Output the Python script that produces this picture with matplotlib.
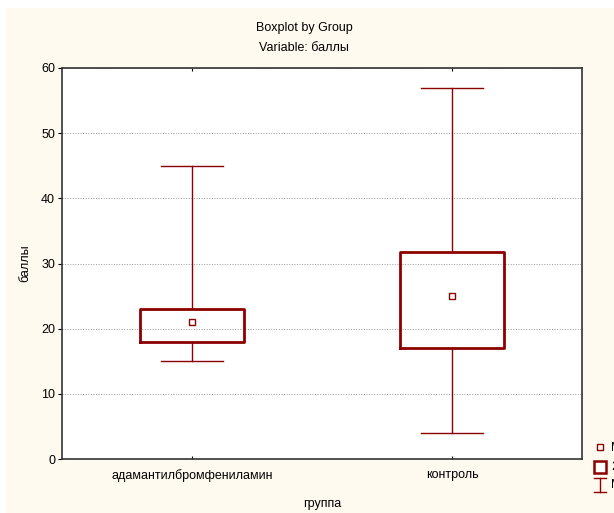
import matplotlib
matplotlib.use("Agg")
import matplotlib.pyplot as plt
from matplotlib.patches import Rectangle
from matplotlib.lines import Line2D

plt.rcParams["font.family"] = ["Liberation Sans", "DejaVu Sans"]

# ---- данные ----
groups = ["адамантилбромфениламин", "контроль"]
medians = [21, 25]
q1 = [18, 17]
q3 = [23, 31.8]
mins = [15, 4]
maxs = [45, 57]

RED = "#8c0000"
CREAM = "#fefaf0"

fig = plt.figure(figsize=(6.14, 5.13), dpi=100)
fig.patch.set_facecolor("white")
fig.add_artist(Rectangle((6/614, 0), 1, 1 - 8/513, transform=fig.transFigure,
                         fc=CREAM, ec="none", zorder=-10))

ax = fig.add_axes([62/614, 1 - 459/513, 520/614, 391/513])
ax.set_facecolor("white")

stats = []
for i, g in enumerate(groups):
    stats.append(dict(label=g, med=medians[i], q1=q1[i], q3=q3[i],
                      whislo=mins[i], whishi=maxs[i], fliers=[]))

ax.bxp(stats, positions=[1, 2], widths=0.4, showfliers=False,
       boxprops=dict(color=RED, lw=2.0),
       whiskerprops=dict(color=RED, lw=1.0),
       capprops=dict(color=RED, lw=1.0),
       medianprops=dict(visible=False), capwidths=0.24, zorder=3)
# медиана - маленький квадрат
ax.plot([1, 2], medians, "s", ms=5, mfc="white", mec=RED, mew=1.0, zorder=4)

ax.set_xlim(0.5, 2.5)
ax.set_ylim(0, 60)
ax.set_yticks(range(0, 61, 10))
ax.yaxis.grid(True, ls=":", color="#9a9a9a", lw=0.7)
ax.set_axisbelow(True)
ax.tick_params(axis="y", direction="out", length=3, width=0.8, labelsize=9, pad=2)
ax.tick_params(axis="x", direction="in", length=2, width=0.8, labelsize=9, pad=7,
               top=True)
for s in ax.spines.values():
    s.set_color("#333333"); s.set_linewidth(1.2)

ax.set_ylabel("баллы", fontsize=9, labelpad=7)
ax.set_xlabel("группа", fontsize=9, labelpad=12)

fig.text(0.495, 1 - 28/513, "Boxplot by Group", ha="center", va="center", fontsize=9)
fig.text(0.495, 1 - 48/513, "Variable: баллы", ha="center", va="center", fontsize=9)

# легенда у правого края (обрезана, как в оригинале)
lx = 600/614
fig.add_artist(Line2D([lx], [1 - 447/513], marker="s", ms=5, mfc="white",
                      mec=RED, mew=1.0, transform=fig.transFigure))
fig.add_artist(Line2D([lx], [1 - 467/513], marker="s", ms=9, mfc="white",
                      mec=RED, mew=1.8, transform=fig.transFigure))
fig.add_artist(Line2D([lx, lx], [1 - 478/513, 1 - 492/513], color=RED, lw=1.0,
                      transform=fig.transFigure))
for yy in (478, 492):
    fig.add_artist(Line2D([lx - 6/614, lx + 6/614], [1 - yy/513] * 2, color=RED,
                          lw=1.0, transform=fig.transFigure))
for yy, t in [(448, "Медиана"), (467, "25%-75%"), (485, "Мин-Макс")]:
    fig.text(611/614, 1 - yy/513, t, ha="left", va="center", fontsize=9)

fig.savefig("out.png", dpi=100, facecolor=fig.get_facecolor())
